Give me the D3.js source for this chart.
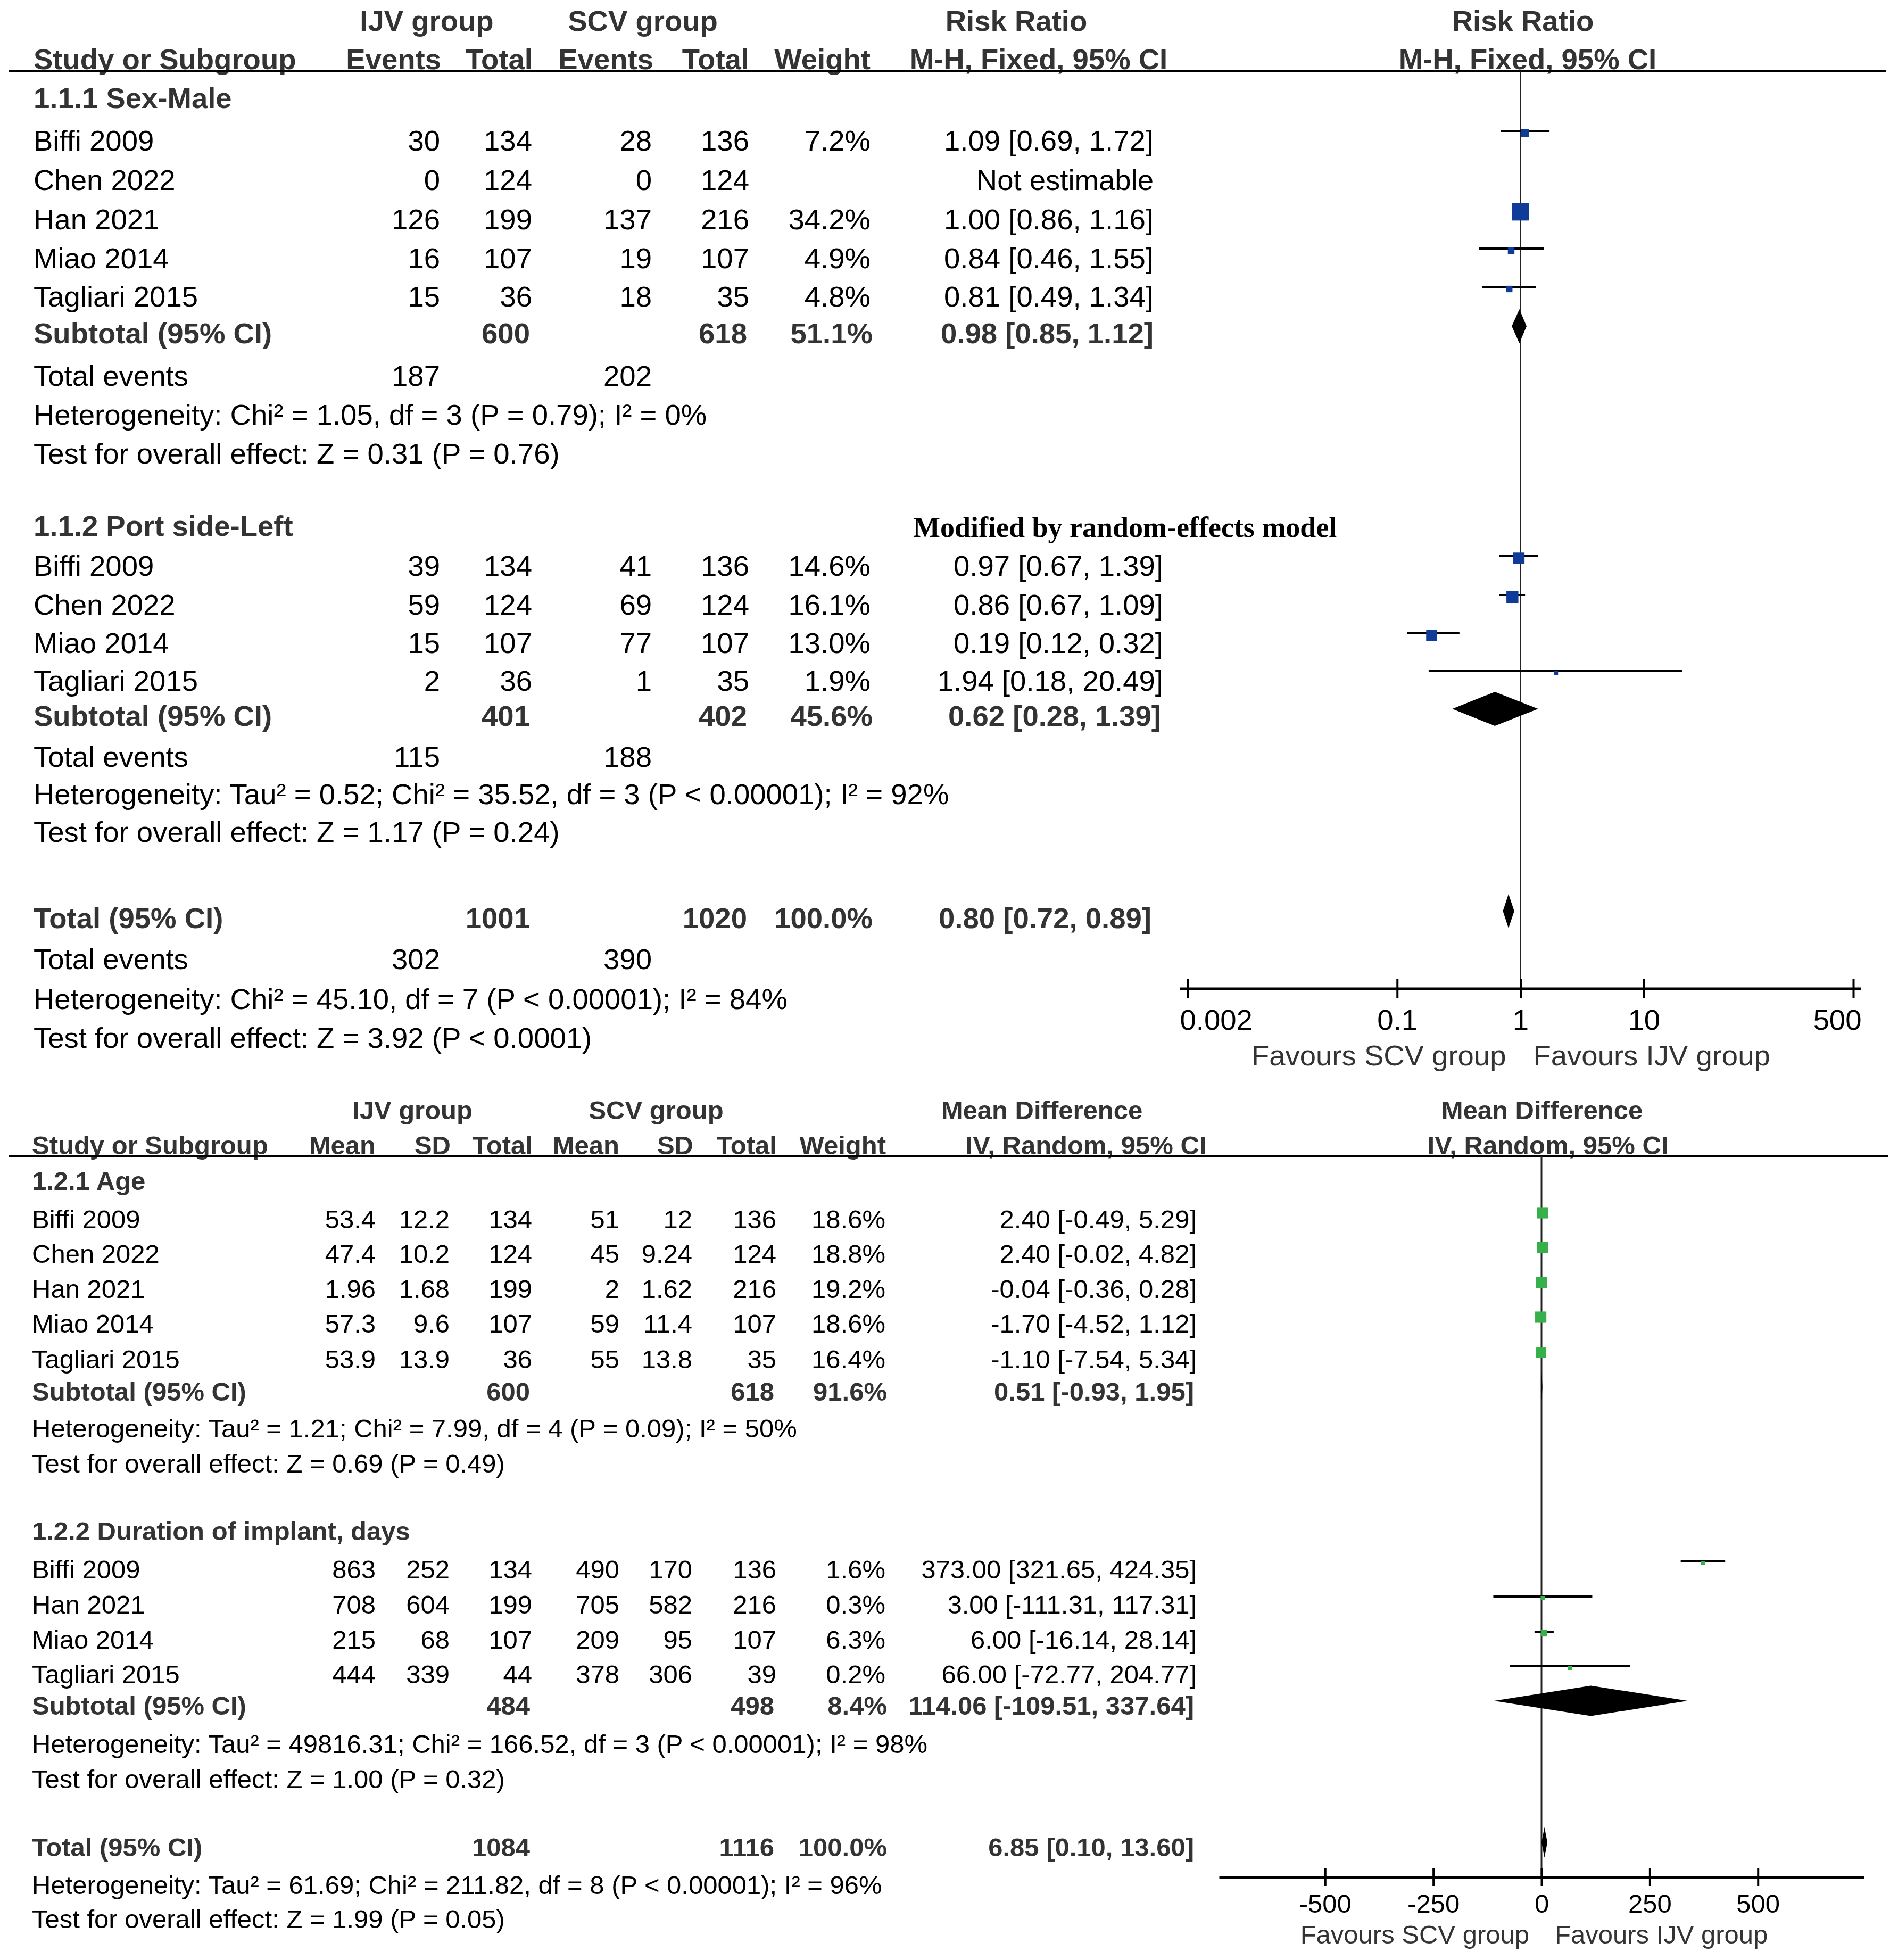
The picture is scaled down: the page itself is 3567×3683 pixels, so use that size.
<!DOCTYPE html>
<html>
<head>
<meta charset="utf-8">
<script src="https://cdn.jsdelivr.net/npm/d3@7"></script>
<style>
  body { margin: 0; background: #fff; }
  svg { display: block; }
</style>
</head>
<body>
<div id="chart"></div>
<script>
// ---------- panel 1: risk ratio, M-H fixed ----------
var sexStudies   = ["Biffi 2009", "Chen 2022", "Han 2021", "Miao 2014", "Tagliari 2015"];
var sexIjvEvents = [30, 0, 126, 16, 15];
var sexIjvTotal  = [134, 124, 199, 107, 36];
var sexScvEvents = [28, 0, 137, 19, 18];
var sexScvTotal  = [136, 124, 216, 107, 35];
var sexWeight    = [7.2, null, 34.2, 4.9, 4.8];
var sexRR        = [1.09, null, 1.00, 0.84, 0.81];
var sexLo        = [0.69, null, 0.86, 0.46, 0.49];
var sexHi        = [1.72, null, 1.16, 1.55, 1.34];

var portStudies   = ["Biffi 2009", "Chen 2022", "Miao 2014", "Tagliari 2015"];
var portIjvEvents = [39, 59, 15, 2];
var portIjvTotal  = [134, 124, 107, 36];
var portScvEvents = [41, 69, 77, 1];
var portScvTotal  = [136, 124, 107, 35];
var portWeight    = [14.6, 16.1, 13.0, 1.9];
var portRR        = [0.97, 0.86, 0.19, 1.94];
var portLo        = [0.67, 0.67, 0.12, 0.18];
var portHi        = [1.39, 1.09, 0.32, 20.49];

// subtotal / total rows: [label, ijvTotal, scvTotal, weight, est, lo, hi]
var rrSummaries = [
  ["Subtotal (95% CI)", 600, 618, 51.1, 0.98, 0.85, 1.12],
  ["Subtotal (95% CI)", 401, 402, 45.6, 0.62, 0.28, 1.39],
  ["Total (95% CI)", 1001, 1020, 100.0, 0.80, 0.72, 0.89]
];
var rrTotalEvents = [[187, 202], [115, 188], [302, 390]];
var rrStats = [
  ["Heterogeneity: Chi² = 1.05, df = 3 (P = 0.79); I² = 0%",
   "Test for overall effect: Z = 0.31 (P = 0.76)"],
  ["Heterogeneity: Tau² = 0.52; Chi² = 35.52, df = 3 (P < 0.00001); I² = 92%",
   "Test for overall effect: Z = 1.17 (P = 0.24)"],
  ["Heterogeneity: Chi² = 45.10, df = 7 (P < 0.00001); I² = 84%",
   "Test for overall effect: Z = 3.92 (P < 0.0001)"]
];
var rrTicks = [0.002, 0.1, 1, 10, 500];

// ---------- panel 2: mean difference, IV random ----------
var ageStudies = ["Biffi 2009", "Chen 2022", "Han 2021", "Miao 2014", "Tagliari 2015"];
var ageIjvMean = [53.4, 47.4, 1.96, 57.3, 53.9];
var ageIjvSD   = [12.2, 10.2, 1.68, 9.6, 13.9];
var ageIjvN    = [134, 124, 199, 107, 36];
var ageScvMean = [51, 45, 2, 59, 55];
var ageScvSD   = [12, 9.24, 1.62, 11.4, 13.8];
var ageScvN    = [136, 124, 216, 107, 35];
var ageWeight  = [18.6, 18.8, 19.2, 18.6, 16.4];
var ageMD      = [2.40, 2.40, -0.04, -1.70, -1.10];
var ageLo      = [-0.49, -0.02, -0.36, -4.52, -7.54];
var ageHi      = [5.29, 4.82, 0.28, 1.12, 5.34];

var durStudies = ["Biffi 2009", "Han 2021", "Miao 2014", "Tagliari 2015"];
var durIjvMean = [863, 708, 215, 444];
var durIjvSD   = [252, 604, 68, 339];
var durIjvN    = [134, 199, 107, 44];
var durScvMean = [490, 705, 209, 378];
var durScvSD   = [170, 582, 95, 306];
var durScvN    = [136, 216, 107, 39];
var durWeight  = [1.6, 0.3, 6.3, 0.2];
var durMD      = [373.00, 3.00, 6.00, 66.00];
var durLo      = [321.65, -111.31, -16.14, -72.77];
var durHi      = [424.35, 117.31, 28.14, 204.77];

var mdSummaries = [
  ["Subtotal (95% CI)", 600, 618, 91.6, 0.51, -0.93, 1.95],
  ["Subtotal (95% CI)", 484, 498, 8.4, 114.06, -109.51, 337.64],
  ["Total (95% CI)", 1084, 1116, 100.0, 6.85, 0.10, 13.60]
];
var mdStats = [
  ["Heterogeneity: Tau² = 1.21; Chi² = 7.99, df = 4 (P = 0.09); I² = 50%",
   "Test for overall effect: Z = 0.69 (P = 0.49)"],
  ["Heterogeneity: Tau² = 49816.31; Chi² = 166.52, df = 3 (P < 0.00001); I² = 98%",
   "Test for overall effect: Z = 1.00 (P = 0.32)"],
  ["Heterogeneity: Tau² = 61.69; Chi² = 211.82, df = 8 (P < 0.00001); I² = 96%",
   "Test for overall effect: Z = 1.99 (P = 0.05)"]
];
var mdTicks = [-500, -250, 0, 250, 500];

// ---------- setup ----------
var W = 3567, H = 3683;
var svg = d3.select("#chart").append("svg")
    .attr("width", W)
    .attr("height", H)
    .attr("font-family", "'Liberation Sans', Arial, sans-serif");
svg.append("rect").attr("width", W).attr("height", H).attr("fill", "#fff");

// plain hyphen for negatives, like the original
var loc = d3.formatLocale({decimal: ".", thousands: ",", grouping: [3], currency: ["", ""], minus: "-"});
var f2 = loc.format(".2f"), f1 = loc.format(".1f");
function ciText(e, lo, hi) { return f2(e) + " [" + f2(lo) + ", " + f2(hi) + "]"; }

function txt(g, x, y, s, size, anchor, bold) {
    return g.append("text")
        .attr("x", x).attr("y", y)
        .attr("font-size", size)
        .attr("text-anchor", anchor || "start")
        .attr("font-weight", bold ? "bold" : "normal")
        .attr("fill", bold ? "#333" : "#000")
        .text(s);
}

function diamond(g, x, e, lo, hi, cy, h) {
    g.append("path")
        .attr("d", "M" + x(lo) + "," + cy + "L" + x(e) + "," + (cy - h / 2) +
                   "L" + x(hi) + "," + cy + "L" + x(e) + "," + (cy + h / 2) + "Z")
        .attr("fill", "#000");
}

function markers(g, x, size, est, lo, hi, wt, lineYs, dy, color) {
    est.forEach(function(e, i) {
        if (e === null) return;
        var ly = lineYs[i];
        g.append("line")
            .attr("x1", x(lo[i])).attr("x2", x(hi[i]))
            .attr("y1", ly).attr("y2", ly)
            .attr("stroke", "#000").attr("stroke-width", 4);
        var s = Math.max(size(wt[i]), 8);
        g.append("rect")
            .attr("x", x(e) - s / 2).attr("y", ly + dy - s / 2)
            .attr("width", s).attr("height", s)
            .attr("fill", color);
    });
}

// ================= PANEL 1 =================
var p1 = svg.append("g");
var fs1 = 54.5;
var c1 = {name: 63, e1: 827, t1: 1000, e2: 1225, t2: 1408, w: 1636, ci: 2168, ci2: 2186};

txt(p1, 802, 58, "IJV group", fs1, "middle", true);
txt(p1, 1208, 58, "SCV group", fs1, "middle", true);
txt(p1, 1910, 58, "Risk Ratio", fs1, "middle", true);
txt(p1, 2862, 58, "Risk Ratio", fs1, "middle", true);
txt(p1, c1.name, 130, "Study or Subgroup", fs1, "start", true);
txt(p1, c1.e1 + 2, 130, "Events", fs1, "end", true);
txt(p1, c1.t1 + 1, 130, "Total", fs1, "end", true);
txt(p1, c1.e2 + 3, 130, "Events", fs1, "end", true);
txt(p1, c1.t2, 130, "Total", fs1, "end", true);
txt(p1, c1.w, 130, "Weight", fs1, "end", true);
txt(p1, 1952, 130, "M-H, Fixed, 95% CI", fs1, "middle", true);
txt(p1, 2871, 130, "M-H, Fixed, 95% CI", fs1, "middle", true);
p1.append("line").attr("x1", 17).attr("x2", 3545).attr("y1", 133).attr("y2", 133)
    .attr("stroke", "#000").attr("stroke-width", 4);

var xRR = d3.scaleLog().domain([0.002, 500]).range([2232, 3483]);
var sz1 = d3.scaleSqrt().domain([0, 100]).range([0, 56]);
var axisY1 = 1858;

// reference line at RR = 1
p1.append("line").attr("x1", xRR(1)).attr("x2", xRR(1)).attr("y1", 133).attr("y2", axisY1)
    .attr("stroke", "#222").attr("stroke-width", 3);

function rrStudyRows(studies, ie, it, se, st, wt, rr, lo, hi, ys, ciX) {
    studies.forEach(function(s, i) {
        var y = ys[i];
        txt(p1, c1.name, y, s, fs1);
        txt(p1, c1.e1, y, ie[i], fs1, "end");
        txt(p1, c1.t1, y, it[i], fs1, "end");
        txt(p1, c1.e2, y, se[i], fs1, "end");
        txt(p1, c1.t2, y, st[i], fs1, "end");
        if (wt[i] !== null) txt(p1, c1.w, y, f1(wt[i]) + "%", fs1, "end");
        txt(p1, ciX, y, rr[i] === null ? "Not estimable" : ciText(rr[i], lo[i], hi[i]), fs1, "end");
    });
    markers(p1, xRR, sz1, rr, lo, hi, wt, ys.map(function(y) { return y - 37; }), 4, "#0f3c99");
}

function rrSummary(k, y, ciX, evY, hetY, testY) {
    var r = rrSummaries[k];
    txt(p1, c1.name, y, r[0], fs1, "start", true);
    txt(p1, c1.t1 - 4, y, r[1], fs1, "end", true);
    txt(p1, c1.t2 - 4, y, r[2], fs1, "end", true);
    txt(p1, c1.w + 4, y, f1(r[3]) + "%", fs1, "end", true);
    txt(p1, ciX, y, ciText(r[4], r[5], r[6]), fs1, "end", true);
    diamond(p1, xRR, r[4], r[5], r[6], y - 32, 64);
    txt(p1, c1.name, evY, "Total events", fs1);
    txt(p1, c1.e1, evY, rrTotalEvents[k][0], fs1, "end");
    txt(p1, c1.e2, evY, rrTotalEvents[k][1], fs1, "end");
    txt(p1, c1.name, hetY, rrStats[k][0], fs1);
    txt(p1, c1.name, testY, rrStats[k][1], fs1);
}

txt(p1, c1.name, 203, "1.1.1 Sex-Male", fs1, "start", true);
rrStudyRows(sexStudies, sexIjvEvents, sexIjvTotal, sexScvEvents, sexScvTotal,
            sexWeight, sexRR, sexLo, sexHi, [283, 357, 431, 504, 576], c1.ci);
rrSummary(0, 645, c1.ci, 725, 798, 871);

txt(p1, c1.name, 1007, "1.1.2 Port side-Left", fs1, "start", true);
p1.append("text").attr("x", 1716).attr("y", 1009)
    .attr("font-family", "'Liberation Serif', 'Times New Roman', serif")
    .attr("font-weight", "bold").attr("font-size", 54).attr("fill", "#000")
    .text("Modified by random-effects model");
rrStudyRows(portStudies, portIjvEvents, portIjvTotal, portScvEvents, portScvTotal,
            portWeight, portRR, portLo, portHi, [1082, 1155, 1227, 1298], c1.ci2);
rrSummary(1, 1364, c1.ci2 - 4, 1441, 1511, 1582);

rrSummary(2, 1744, c1.ci - 4, 1821, 1896, 1969);

// axis
var ax1 = p1.append("g").attr("transform", "translate(0," + axisY1 + ")")
    .call(d3.axisBottom(xRR).tickValues(rrTicks).tickFormat(function(d) { return String(d); })
          .tickSize(18).tickSizeOuter(0));
ax1.attr("font-size", null).attr("font-family", null).attr("color", "#000");
ax1.select(".domain").remove();
ax1.selectAll(".tick line").attr("y1", -18).attr("stroke-width", 4);
ax1.selectAll(".tick text").attr("y", 77).attr("dy", null).attr("font-size", fs1).attr("fill", "#000");
ax1.selectAll(".tick text").filter(function(d) { return d === rrTicks[0]; })
    .attr("text-anchor", "start").attr("x", -15);
ax1.selectAll(".tick text").filter(function(d) { return d === rrTicks[rrTicks.length - 1]; })
    .attr("text-anchor", "end").attr("x", 15);
p1.append("line").attr("x1", xRR.range()[0] - 15).attr("x2", xRR.range()[1] + 15)
    .attr("y1", axisY1).attr("y2", axisY1).attr("stroke", "#000").attr("stroke-width", 5);
txt(p1, xRR(1) - 27, 2002, "Favours SCV group", fs1, "end").attr("fill", "#333");
txt(p1, xRR(1) + 24, 2002, "Favours IJV group", fs1, "start").attr("fill", "#333");

// ================= PANEL 2 =================
var p2 = svg.append("g");
var fs2 = 49;
var c2 = {name: 60, m1: 706, sd1: 845, t1: 1000, m2: 1164, sd2: 1301, t2: 1459, w: 1664, ci: 2249};

txt(p2, 775, 2103, "IJV group", fs2, "middle", true);
txt(p2, 1233, 2103, "SCV group", fs2, "middle", true);
txt(p2, 1958, 2103, "Mean Difference", fs2, "middle", true);
txt(p2, 2898, 2103, "Mean Difference", fs2, "middle", true);
txt(p2, c2.name, 2169, "Study or Subgroup", fs2, "start", true);
txt(p2, c2.m1, 2169, "Mean", fs2, "end", true);
txt(p2, c2.sd1 + 2, 2169, "SD", fs2, "end", true);
txt(p2, c2.t1 + 1, 2169, "Total", fs2, "end", true);
txt(p2, c2.m2, 2169, "Mean", fs2, "end", true);
txt(p2, c2.sd2 + 2, 2169, "SD", fs2, "end", true);
txt(p2, c2.t2 + 1, 2169, "Total", fs2, "end", true);
txt(p2, c2.w + 1, 2169, "Weight", fs2, "end", true);
txt(p2, 2041, 2169, "IV, Random, 95% CI", fs2, "middle", true);
txt(p2, 2909, 2169, "IV, Random, 95% CI", fs2, "middle", true);
p2.append("line").attr("x1", 17).attr("x2", 3549).attr("y1", 2173).attr("y2", 2173)
    .attr("stroke", "#000").attr("stroke-width", 4);

var xMD = d3.scaleLinear().domain([-745, 745]).range([2291, 3503]);
var sz2 = d3.scaleSqrt().domain([0, 100]).range([0, 49]);
var axisY2 = 3527;

p2.append("line").attr("x1", xMD(0)).attr("x2", xMD(0)).attr("y1", 2173).attr("y2", axisY2)
    .attr("stroke", "#222").attr("stroke-width", 3);

function mdStudyRows(studies, m1, s1, n1, m2, s2, n2, wt, md, lo, hi, ys) {
    studies.forEach(function(s, i) {
        var y = ys[i];
        txt(p2, c2.name, y, s, fs2);
        txt(p2, c2.m1, y, m1[i], fs2, "end");
        txt(p2, c2.sd1, y, s1[i], fs2, "end");
        txt(p2, c2.t1, y, n1[i], fs2, "end");
        txt(p2, c2.m2, y, m2[i], fs2, "end");
        txt(p2, c2.sd2, y, s2[i], fs2, "end");
        txt(p2, c2.t2, y, n2[i], fs2, "end");
        txt(p2, c2.w, y, f1(wt[i]) + "%", fs2, "end");
        txt(p2, c2.ci, y, ciText(md[i], lo[i], hi[i]), fs2, "end");
    });
    markers(p2, xMD, sz2, md, lo, hi, wt, ys.map(function(y) { return y - 32; }), 3, "#35b04a");
}

function mdSummary(k, y, hetY, testY) {
    var r = mdSummaries[k];
    txt(p2, c2.name, y, r[0], fs2, "start", true);
    txt(p2, c2.t1 - 4, y, r[1], fs2, "end", true);
    txt(p2, c2.t2 - 4, y, r[2], fs2, "end", true);
    txt(p2, c2.w + 3, y, f1(r[3]) + "%", fs2, "end", true);
    txt(p2, c2.ci - 5, y, ciText(r[4], r[5], r[6]), fs2, "end", true);
    diamond(p2, xMD, r[4], r[5], r[6], y - 26, 57);
    txt(p2, c2.name, hetY, mdStats[k][0], fs2);
    txt(p2, c2.name, testY, mdStats[k][1], fs2);
}

txt(p2, c2.name, 2236, "1.2.1 Age", fs2, "start", true);
mdStudyRows(ageStudies, ageIjvMean, ageIjvSD, ageIjvN, ageScvMean, ageScvSD, ageScvN,
            ageWeight, ageMD, ageLo, ageHi, [2308, 2373, 2439, 2504, 2571]);
mdSummary(0, 2632, 2701, 2767);

txt(p2, c2.name, 2894, "1.2.2 Duration of implant, days", fs2, "start", true);
mdStudyRows(durStudies, durIjvMean, durIjvSD, durIjvN, durScvMean, durScvSD, durScvN,
            durWeight, durMD, durLo, durHi, [2966, 3032, 3098, 3163]);
mdSummary(1, 3222, 3294, 3360);

mdSummary(2, 3488, 3559, 3623);

var ax2 = p2.append("g").attr("transform", "translate(0," + axisY2 + ")")
    .call(d3.axisBottom(xMD).tickValues(mdTicks).tickFormat(loc.format("d"))
          .tickSize(17).tickSizeOuter(0));
ax2.attr("font-size", null).attr("font-family", null).attr("color", "#000");
ax2.select(".domain").attr("stroke-width", 5);
ax2.selectAll(".tick line").attr("y1", -17).attr("stroke-width", 4);
ax2.selectAll(".tick text").attr("y", 67).attr("dy", null).attr("font-size", fs2).attr("fill", "#000");
txt(p2, xMD(0) - 23, 3652, "Favours SCV group", fs2, "end").attr("fill", "#333");
txt(p2, xMD(0) + 25, 3652, "Favours IJV group", fs2, "start").attr("fill", "#333");
</script>
</body>
</html>
